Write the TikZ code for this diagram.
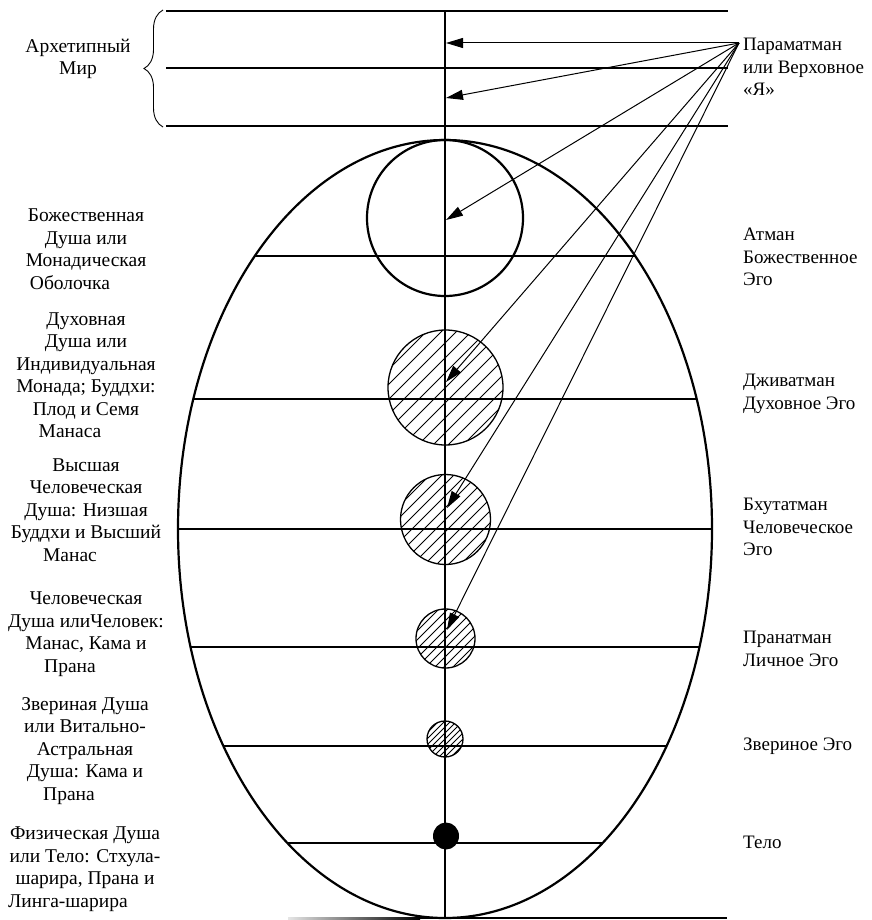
\documentclass[tikz,border=0pt]{standalone}
\usepackage{fontspec}
\setmainfont{Liberation Serif}
\usetikzlibrary{arrows.meta,decorations.pathreplacing}
\begin{document}
\begin{tikzpicture}[x=1pt,y=-1pt,
  thickline/.style={line width=2.4pt},
  midline/.style={line width=2.2pt},
  hatchcirc/.style={line width=1.3pt},
  hatchline/.style={line width=0.9pt},
  ray/.style={line width=1pt,-{Triangle[length=17pt,width=10pt]}},
  lbl/.style={align=center,font=\fontsize{19.5}{22.5}\selectfont,inner sep=0pt},
  rlbl/.style={align=left,anchor=west,font=\fontsize{19}{22.5}\selectfont,inner sep=0pt},
]
\useasboundingbox (0,0) rectangle (871,920);

% top lines (archetypal world)
\draw[thickline] (166,11) -- (728,11);
\draw[thickline] (166,68) -- (728,68);
\draw[thickline] (166,126) -- (728,126);

% brace
\draw[decorate,decoration={brace,amplitude=19pt},line width=0.9pt] (163,127) -- (163,10);

% ellipse
\draw[midline] (445,529) ellipse [x radius=267, y radius=389];

% horizontal lines inside ellipse
\begin{scope}
  \clip (445,529) ellipse [x radius=267, y radius=389];
  \foreach \yy in {256,399,529,647,746,843}
    \draw[midline] (150,\yy) -- (740,\yy);
\end{scope}

% bottom line (fading in from the left)
\shade[left color=black!10,right color=black] (288,917) rectangle (420,919.3);
\draw[line width=2.3pt] (419,918.15) -- (727,918.15);

% big circle
\draw[midline] (445,218) circle (78);

% hatched circles
\foreach \cx/\cy/\r/\d in {445.5/387.5/57.5/15, 445.5/519.5/45/12, 445.5/638.5/29.5/9, 445/739/18/6}{
  \begin{scope}[shift={(\cx,\cy)}]
    \begin{scope}
      \clip (0,0) circle (\r);
      \pgfmathsetmacro{\R}{\r+3}
      \pgfmathtruncatemacro{\n}{ceil(2*\R/\d)+1}
      \foreach \k in {-\n,...,\n}
        \draw[hatchline] (-\R,{\k*\d+\R}) -- (\R,{\k*\d-\R});
    \end{scope}
    \draw[hatchcirc] (0,0) circle (\r);
  \end{scope}
}

% vertical axis
\draw[thickline] (445,11) -- (445,918);

% body dot
\fill (446,836) ellipse [x radius=13, y radius=13.5];

% rays
\coordinate (P) at (739,43);
\coordinate (t1) at (446,43);
\coordinate (t2) at (446,98);
\coordinate (t3) at (446,220);
\coordinate (t4) at (446,382);
\coordinate (t5) at (447,508);
\coordinate (t6) at (447,630);
\foreach \t in {t1,t2,t3,t4,t5,t6}
  \draw[ray] (P) -- (\t);

% left labels
\node[lbl] (arch) at (78,59) {Архетипный\\Мир};
\node[lbl] (b1) at (86,249) {Божественная\\Душа или\\Монадическая\\Оболочка\hspace*{32pt}};
\node[lbl] (b2) at (86,375) {Духовная\\Душа или\\Индивидуальная\\Монада; Буддхи:\\Плод и Семя\\Манаса\hspace*{32pt}};
\node[lbl] (b3) at (86,510) {Высшая\\Человеческая\\Душа: Низшая\\Буддхи и Высший\\Манас\hspace*{32pt}};
\node[lbl] (b4) at (86,634) {Человеческая\\Душа илиЧеловек:\\Манас, Кама и\\Прана\hspace*{32pt}};
\node[lbl] (b5) at (85,751) {Звериная Душа\\или Витально-\\Астральная\hspace*{30pt}\\Душа: Кама и\\Прана\hspace*{32pt}};
\node[lbl] (b6) at (85,869) {Физическая Душа\\или Тело: Стхула-\\шарира, Прана и\\Линга-шарира\hspace*{34pt}};

% right labels
\node[rlbl] (r0) at (743,67) {Параматман\\или Верховное\\«Я»};
\node[rlbl] (r1) at (743,257) {Атман\\Божественное\\Эго};
\node[rlbl] (r2) at (743,394) {Дживатман\\Духовное Эго};
\node[rlbl] (r3) at (743,527) {Бхутатман\\Человеческое\\Эго};
\node[rlbl] (r4) at (743,649) {Пранатман\\Личное Эго};
\node[rlbl] (r5) at (743,746) {Звериное Эго};
\node[rlbl] (r6) at (743,842) {Тело};
\end{tikzpicture}
\end{document}
